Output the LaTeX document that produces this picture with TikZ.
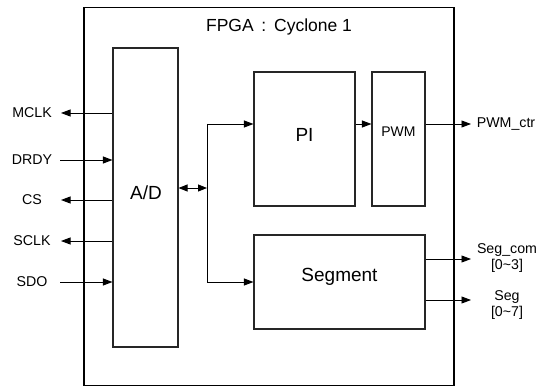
\documentclass[tikz,border=0pt]{standalone}
\usepackage{fontspec}
\setmainfont{Liberation Sans}
\usetikzlibrary{arrows.meta}
\begin{document}
\begin{tikzpicture}[x=1pt,y=-1pt,
  blk/.style={draw=black!85,line width=1.1pt,inner sep=0pt},
  frame/.style={draw=black,line width=1.8pt,inner sep=0pt},
  arr/.style={line width=0.9pt,-{Triangle[length=9.5pt,width=7pt]}},
  biarr/.style={line width=0.9pt,{Triangle[length=9pt,width=7pt]}-{Triangle[length=9pt,width=7pt]}},
  ln/.style={line width=0.9pt},
  sig/.style={font=\fontsize{14.2}{15.5}\selectfont,inner sep=0pt,align=center},
  big/.style={font=\fontsize{19}{21}\selectfont}]
\useasboundingbox (0,0) rectangle (545,387);
% frame
\node[frame,minimum width=370pt,minimum height=378pt] (fpga) at (269,196.5) {};
\node[font=\fontsize{17.5}{19}\selectfont] (title) at (279,27) {FPGA\ \,:\ \,Cyclone 1};
% blocks
\node[blk,minimum width=65pt,minimum height=299pt] (ad) at (145.5,197.5) {};
\node[big] (adt) at (146,193) {A/D};
\node[blk,minimum width=101pt,minimum height=134pt] (pi) at (304.5,139) {};
\node[big] (pit) at (304.5,135) {PI};
\node[blk,minimum width=53pt,minimum height=134pt] (pwm) at (398.5,139) {};
\node[font=\fontsize{14}{15}\selectfont] (pwmt) at (398.5,132) {PWM};
\node[blk,minimum width=171pt,minimum height=94pt] (seg) at (339.5,282) {};
\node[big] (segt) at (339.5,277) {Segment};
% left signals
\node[sig] (mclk) at (32,113) {MCLK};
\node[sig] (drdy) at (32,160) {DRDY};
\node[sig] (cs) at (32,200) {CS};
\node[sig] (sclk) at (32,241) {SCLK};
\node[sig] (sdo) at (32,282) {SDO};
\coordinate (mclkE) at (61,113);
\coordinate (drdyE) at (60,160);
\coordinate (csE) at (61,200);
\coordinate (sclkE) at (61,241);
\coordinate (sdoE) at (60,282);
\draw[arr] (ad.west |- mclkE) -- (mclkE);
\draw[arr] (drdyE) -- (ad.west |- drdyE);
\draw[arr] (ad.west |- csE) -- (csE);
\draw[arr] (ad.west |- sclkE) -- (sclkE);
\draw[arr] (sdoE) -- (ad.west |- sdoE);
% bus
\coordinate (bus) at (207,188);
\coordinate (busT) at (207,124);
\coordinate (busB) at (207,282);
\draw[biarr] (ad.east |- bus) -- (bus);
\draw[ln] (busT) -- (busB);
\draw[arr] (busT) -- (pi.west |- busT);
\draw[arr] (busB) -- (seg.west |- busB);
\draw[arr] (pi.east |- busT) -- (pwm.west |- busT);
% right outputs
\node[sig] (pwmctr) at (506,124) {PWM\_ctr};
\node[sig] (segcom) at (507,258) {Seg\_com\\{[}0\textasciitilde 3{]}};
\node[sig] (segl) at (507,305) {Seg\\{[}0\textasciitilde 7{]}};
\coordinate (pwmctrE) at (471,124);
\coordinate (segcomE) at (471,259);
\coordinate (segE) at (471,300);
\draw[arr] (pwm.east |- pwmctrE) -- (pwmctrE);
\draw[arr] (seg.east |- segcomE) -- (segcomE);
\draw[arr] (seg.east |- segE) -- (segE);
\end{tikzpicture}
\end{document}
